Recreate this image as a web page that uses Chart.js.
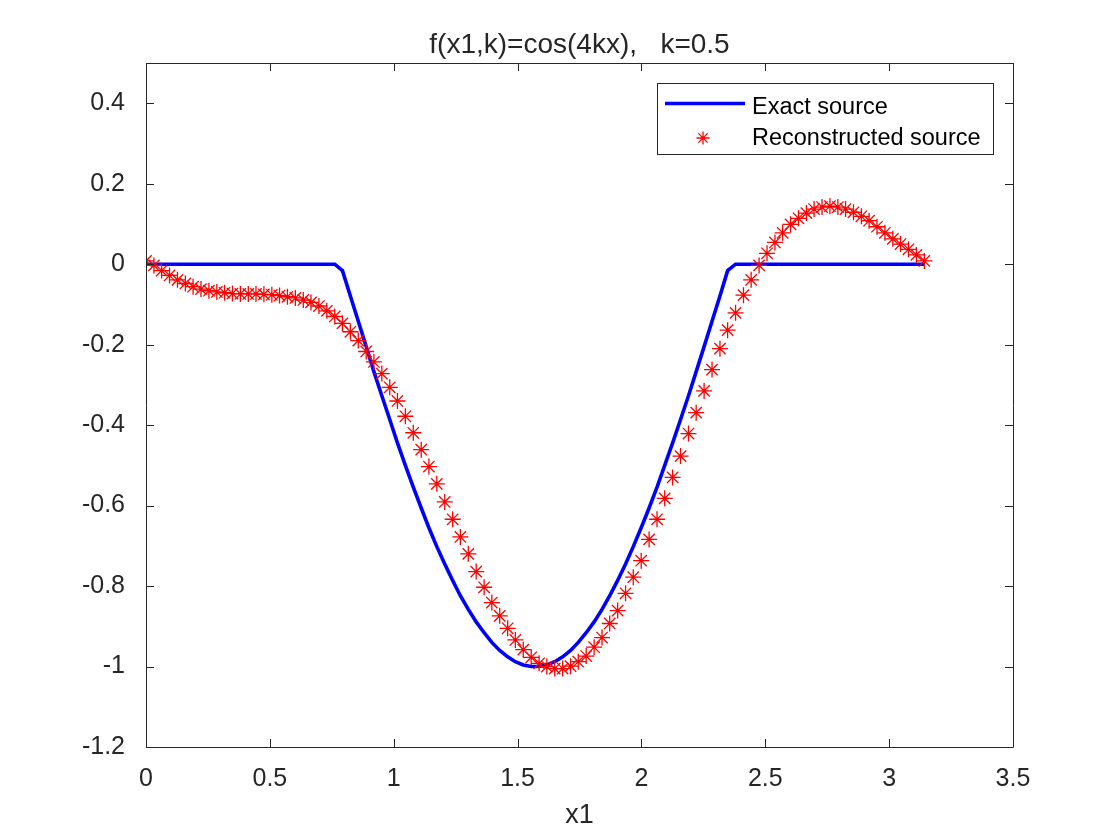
<!DOCTYPE html>
<html>
<head>
<meta charset="utf-8">
<title>f(x1,k)=cos(4kx), k=0.5</title>
<script src="https://cdn.jsdelivr.net/npm/chart.js@4.4.1/dist/chart.umd.min.js"></script>
<style>
  html, body { margin: 0; padding: 0; background: #ffffff; }
  #wrap { width: 1120px; height: 840px; }
</style>
</head>
<body>
<div id="wrap"><canvas id="source-chart" width="1120" height="840"></canvas></div>
<script>
// x grid (0 .. pi, 100 points)
var xValues = [
  0.000, 0.032, 0.063, 0.095, 0.127, 0.159, 0.190, 0.222, 0.254, 0.286,
  0.317, 0.349, 0.381, 0.413, 0.444, 0.476, 0.508, 0.539, 0.571, 0.603,
  0.635, 0.666, 0.698, 0.730, 0.762, 0.793, 0.825, 0.857, 0.889, 0.920,
  0.952, 0.984, 1.015, 1.047, 1.079, 1.111, 1.142, 1.174, 1.206, 1.238,
  1.269, 1.301, 1.333, 1.365, 1.396, 1.428, 1.460, 1.491, 1.523, 1.555,
  1.587, 1.618, 1.650, 1.682, 1.714, 1.745, 1.777, 1.809, 1.841, 1.872,
  1.904, 1.936, 1.967, 1.999, 2.031, 2.063, 2.094, 2.126, 2.158, 2.190,
  2.221, 2.253, 2.285, 2.317, 2.348, 2.380, 2.412, 2.443, 2.475, 2.507,
  2.539, 2.570, 2.602, 2.634, 2.666, 2.697, 2.729, 2.761, 2.793, 2.824,
  2.856, 2.888, 2.919, 2.951, 2.983, 3.015, 3.046, 3.078, 3.110, 3.142
];

// blue line
var exactSource = [
  0, 0, 0, 0, 0, 0, 0, 0, 0, 0,
  0, 0, 0, 0, 0, 0, 0, 0, 0, 0,
  0, 0, 0, 0, 0, -0.016, -0.079, -0.142, -0.205, -0.267,
  -0.327, -0.386, -0.444, -0.500, -0.554, -0.606, -0.655, -0.702, -0.745, -0.786,
  -0.824, -0.858, -0.889, -0.916, -0.940, -0.960, -0.976, -0.988, -0.996, -1.000,
  -1.000, -0.996, -0.988, -0.976, -0.960, -0.940, -0.916, -0.889, -0.858, -0.824,
  -0.786, -0.745, -0.702, -0.655, -0.606, -0.554, -0.500, -0.444, -0.386, -0.327,
  -0.267, -0.205, -0.142, -0.079, -0.016, 0, 0, 0, 0, 0,
  0, 0, 0, 0, 0, 0, 0, 0, 0, 0,
  0, 0, 0, 0, 0, 0, 0, 0, 0, 0
];

// red stars
var reconstructed = [
  0.008, -0.003, -0.016, -0.028, -0.039, -0.048, -0.056, -0.062, -0.066, -0.069,
  -0.071, -0.073, -0.074, -0.074, -0.074, -0.075, -0.076, -0.078, -0.081, -0.084,
  -0.089, -0.095, -0.104, -0.116, -0.130, -0.147, -0.168, -0.190, -0.217, -0.243,
  -0.272, -0.306, -0.340, -0.378, -0.419, -0.461, -0.503, -0.546, -0.591, -0.634,
  -0.678, -0.720, -0.764, -0.803, -0.841, -0.874, -0.905, -0.934, -0.958, -0.977,
  -0.992, -1.000, -1.005, -1.005, -0.999, -0.988, -0.974, -0.952, -0.928, -0.893,
  -0.861, -0.818, -0.778, -0.737, -0.684, -0.634, -0.582, -0.530, -0.477, -0.421,
  -0.369, -0.315, -0.262, -0.210, -0.164, -0.121, -0.077, -0.039, -0.003, 0.027,
  0.054, 0.078, 0.099, 0.114, 0.127, 0.137, 0.142, 0.144, 0.142, 0.137,
  0.129, 0.119, 0.108, 0.093, 0.078, 0.063, 0.050, 0.037, 0.023, 0.008
];

var xTicks = [0, 0.5, 1, 1.5, 2, 2.5, 3, 3.5];
var yTicks = [-1.2, -1, -0.8, -0.6, -0.4, -0.2, 0, 0.2, 0.4];

var titleText = 'f(x1,k)=cos(4kx),   k=0.5';
var legendLabels = ['Exact source', 'Reconstructed source'];

var FONT = '"Liberation Sans", Arial, Helvetica, sans-serif';
var INK = '#262626';

function toPoints(ys) {
  return xValues.map(function(x, i) { return { x: x, y: ys[i] }; });
}

function fmt(v) {
  return String(Math.round(v * 10) / 10);
}

// matlab style star: plus + x
function drawStar(ctx, x, y, r, color, w) {
  ctx.save();
  ctx.strokeStyle = color;
  ctx.lineWidth = w;
  ctx.beginPath();
  ctx.moveTo(x - r, y); ctx.lineTo(x + r, y);
  ctx.moveTo(x, y - r); ctx.lineTo(x, y + r);
  var d = r * Math.SQRT1_2;
  ctx.moveTo(x - d, y - d); ctx.lineTo(x + d, y + d);
  ctx.moveTo(x - d, y + d); ctx.lineTo(x + d, y - d);
  ctx.stroke();
  ctx.restore();
}

// box, inward ticks, title, legend
var matlabAxes = {
  id: 'matlabAxes',
  afterDraw: function(chart) {
    var ctx = chart.ctx;
    var a = chart.chartArea;
    var xs = chart.scales.x, ys = chart.scales.y;
    var tl = 8;

    ctx.save();
    ctx.strokeStyle = INK;
    ctx.lineWidth = 1;
    ctx.beginPath();
    ctx.rect(a.left + 0.5, a.top + 0.5, a.right - a.left, a.bottom - a.top);
    xTicks.forEach(function(v) {
      var px = Math.round(xs.getPixelForValue(v)) + 0.5;
      ctx.moveTo(px, a.bottom); ctx.lineTo(px, a.bottom - tl);
      ctx.moveTo(px, a.top); ctx.lineTo(px, a.top + tl);
    });
    yTicks.forEach(function(v) {
      var py = Math.round(ys.getPixelForValue(v)) + 0.5;
      ctx.moveTo(a.left, py); ctx.lineTo(a.left + tl, py);
      ctx.moveTo(a.right, py); ctx.lineTo(a.right - tl, py);
    });
    ctx.stroke();

    // title
    ctx.fillStyle = INK;
    ctx.font = '28px ' + FONT;
    ctx.textAlign = 'center';
    ctx.textBaseline = 'alphabetic';
    ctx.fillText(titleText, (a.left + a.right) / 2, 53);

    // legend
    var lx = 657.5, ly = 83.5, lw = 336, lh = 71;
    ctx.fillStyle = '#ffffff';
    ctx.fillRect(lx, ly, lw, lh);
    ctx.strokeStyle = INK;
    ctx.lineWidth = 1;
    ctx.strokeRect(lx, ly, lw, lh);

    var ds = chart.data.datasets;
    ctx.strokeStyle = ds[0].borderColor;
    ctx.lineWidth = ds[0].borderWidth;
    ctx.beginPath();
    ctx.moveTo(665, 103.5);
    ctx.lineTo(745, 103.5);
    ctx.stroke();
    drawStar(ctx, 703, 138, 6.5, ds[1].pointBorderColor, 1.3);

    ctx.fillStyle = '#000000';
    ctx.font = '23.5px ' + FONT;
    ctx.textAlign = 'left';
    ctx.fillText(legendLabels[0], 752, 114);
    ctx.fillText(legendLabels[1], 752, 145);
    ctx.restore();
  }
};

var ctx = document.getElementById('source-chart').getContext('2d');

var sourceChart = new Chart(ctx, {
  type: 'scatter',
  data: {
    datasets: [{
      label: legendLabels[0],
      data: toPoints(exactSource),
      showLine: true,
      borderColor: '#0000ff',
      backgroundColor: '#0000ff',
      borderWidth: 3.6,
      pointRadius: 0,
      tension: 0,
      order: 2
    }, {
      label: legendLabels[1],
      data: toPoints(reconstructed),
      showLine: false,
      pointStyle: 'star',
      pointRadius: 8,
      pointBorderColor: '#ff0000',
      pointBackgroundColor: '#ff0000',
      pointBorderWidth: 1.3,
      order: 1
    }]
  },
  options: {
    responsive: false,
    animation: false,
    events: [],
    layout: { padding: { top: 63, right: 107, bottom: 0, left: 0 } },
    plugins: {
      legend: { display: false },
      title: { display: false },
      tooltip: { enabled: false }
    },
    scales: {
      x: {
        type: 'linear',
        min: 0,
        max: 3.5,
        grid: { display: false },
        border: { display: false },
        afterBuildTicks: function(scale) {
          scale.ticks = xTicks.map(function(v) { return { value: v }; });
        },
        afterFit: function(scale) { scale.height = 93; },
        ticks: {
          padding: 9,
          color: INK,
          font: { family: FONT, size: 25 },
          maxRotation: 0,
          callback: function(v) { return fmt(v); }
        },
        title: {
          display: true,
          text: 'x1',
          color: INK,
          font: { family: FONT, size: 27 },
          padding: { top: 0, bottom: 8 }
        }
      },
      y: {
        type: 'linear',
        min: -1.2,
        max: 0.5,
        grid: { display: false },
        border: { display: false },
        afterBuildTicks: function(scale) {
          scale.ticks = yTicks.map(function(v) { return { value: v }; });
        },
        afterFit: function(scale) { scale.width = 146; },
        ticks: {
          padding: 13,
          color: INK,
          font: { family: FONT, size: 25 },
          callback: function(v) { return fmt(v); }
        }
      }
    }
  },
  plugins: [matlabAxes]
});
</script>
</body>
</html>
